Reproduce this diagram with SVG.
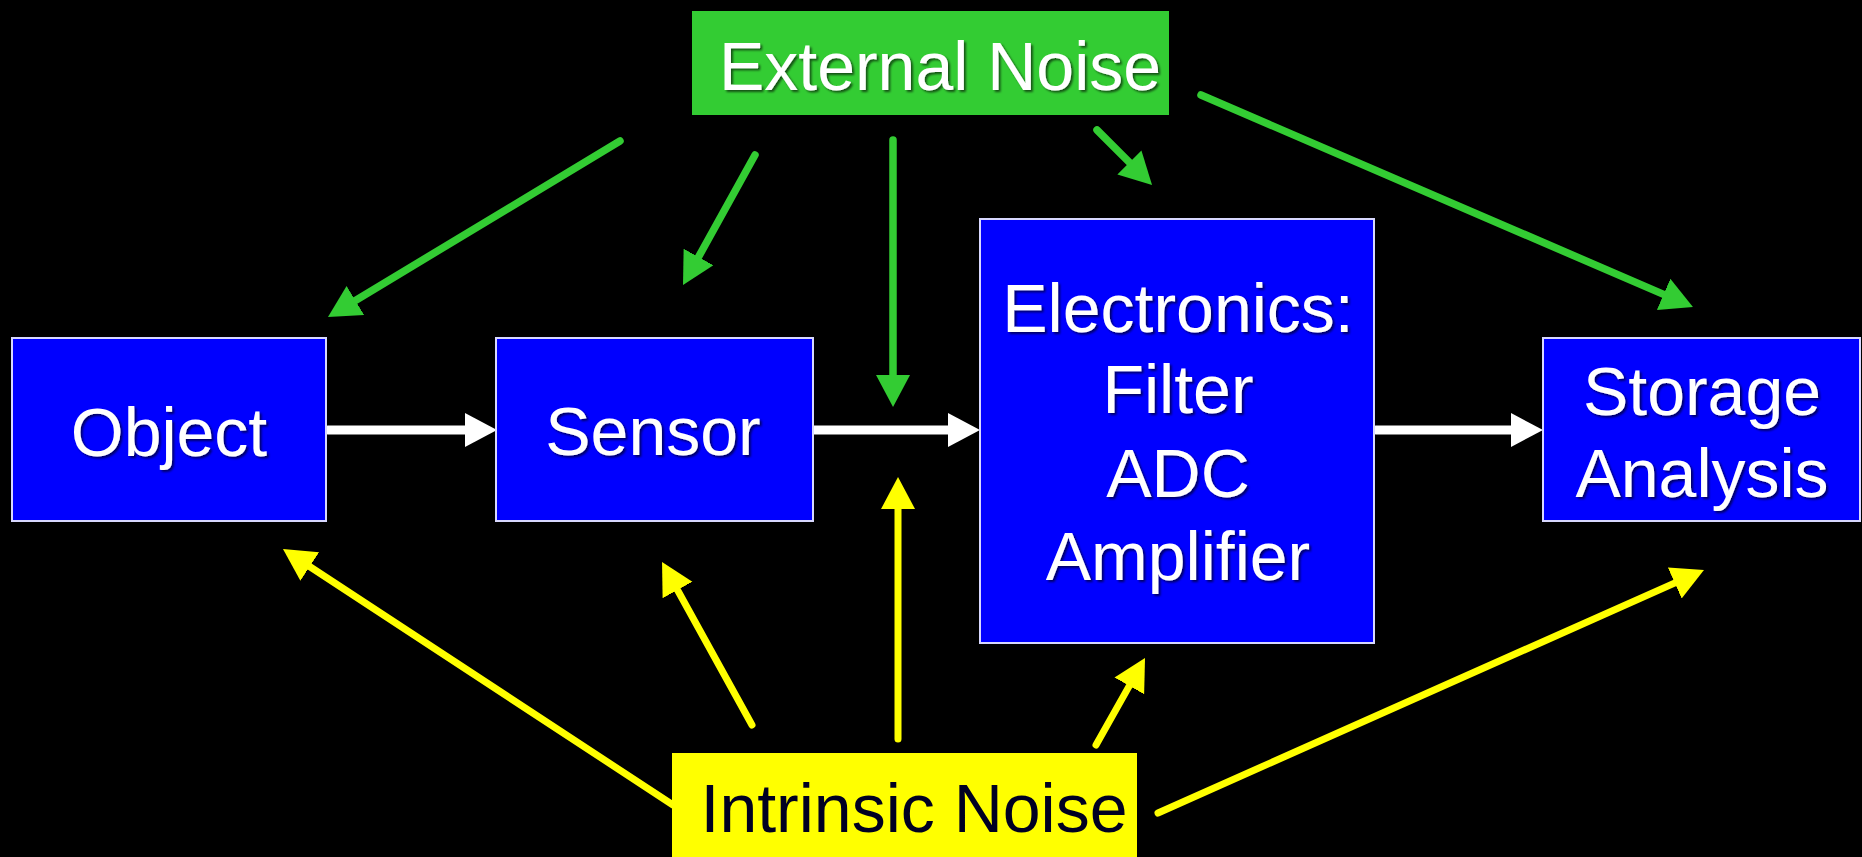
<svg xmlns="http://www.w3.org/2000/svg" width="1862" height="857" viewBox="0 0 1862 857">
<defs>
<style>
.box{fill:#0000ff;stroke:#d8d8ff;stroke-width:2}
.lbl{font-family:"Liberation Sans",Arial,sans-serif;font-size:68px;fill:#ffffff;text-anchor:middle}
.dark{fill:#000022}
.g{stroke:#33cc33;stroke-width:7.5;stroke-linecap:round;fill:none;marker-end:url(#ag)}
.y{stroke:#ffff00;stroke-width:7;stroke-linecap:round;fill:none;marker-end:url(#ay)}
.w{stroke:#ffffff;stroke-width:9;stroke-linecap:round;fill:none;marker-end:url(#aw)}
</style>
<filter id="sh" x="-10%" y="-10%" width="120%" height="130%">
<feDropShadow dx="2" dy="2" stdDeviation="0.8" flood-color="#000000" flood-opacity="0.6"/>
</filter>
<marker id="ag" markerUnits="userSpaceOnUse" markerWidth="34" markerHeight="36" refX="12" refY="17" orient="auto" viewBox="0 0 34 36"><path d="M0,0 L32,17 L0,34 z" fill="#33cc33"/></marker>
<marker id="ay" markerUnits="userSpaceOnUse" markerWidth="34" markerHeight="36" refX="12" refY="17" orient="auto" viewBox="0 0 34 36"><path d="M0,0 L32,17 L0,34 z" fill="#ffff00"/></marker>
<marker id="aw" markerUnits="userSpaceOnUse" markerWidth="34" markerHeight="36" refX="12" refY="17" orient="auto" viewBox="0 0 34 36"><path d="M0,0 L32,17 L0,34 z" fill="#ffffff"/></marker>
</defs>
<rect x="0" y="0" width="1862" height="857" fill="#000000"/>
<g id="connectors">
<line class="w" x1="328" y1="430" x2="477" y2="430"/>
<line class="w" x1="812" y1="430" x2="960" y2="430"/>
<line class="w" x1="1376" y1="430" x2="1523" y2="430"/>
<line class="g" x1="620" y1="141" x2="345.1" y2="306.7"/>
<line class="g" x1="755" y1="155" x2="692.7" y2="267.5"/>
<line class="g" x1="893" y1="140" x2="893" y2="387"/>
<line class="g" x1="1097" y1="130" x2="1137.9" y2="170.9"/>
<line class="g" x1="1201" y1="95" x2="1674.6" y2="299.1"/>
<line class="y" x1="673" y1="805" x2="299.7" y2="560"/>
<line class="y" x1="752" y1="725" x2="671.7" y2="579.5"/>
<line class="y" x1="898" y1="739" x2="898" y2="497"/>
<line class="y" x1="1096" y1="745" x2="1135.2" y2="675.4"/>
<line class="y" x1="1158" y1="813" x2="1685.7" y2="578.1"/>
</g>
<g id="external-noise">
<rect x="692" y="11" width="477" height="104" fill="#33cc33"/>
<text class="lbl" x="940" y="90" filter="url(#sh)">External Noise</text>
</g>
<g id="object">
<rect class="box" x="12" y="338" width="314" height="183"/>
<text class="lbl" x="169" y="456" filter="url(#sh)">Object</text>
</g>
<g id="sensor">
<rect class="box" x="496" y="338" width="317" height="183"/>
<text class="lbl" x="653" y="455" filter="url(#sh)">Sensor</text>
</g>
<g id="electronics">
<rect class="box" x="980" y="219" width="394" height="424"/>
<text class="lbl" filter="url(#sh)"><tspan x="1178" y="332">Electronics:</tspan><tspan x="1178" y="413">Filter</tspan><tspan x="1178" y="497">ADC</tspan><tspan x="1178" y="580">Amplifier</tspan></text>
</g>
<g id="storage">
<rect class="box" x="1543" y="338" width="317" height="183"/>
<text class="lbl" filter="url(#sh)"><tspan x="1702" y="415">Storage</tspan><tspan x="1702" y="497">Analysis</tspan></text>
</g>
<g id="intrinsic-noise">
<rect x="672" y="753" width="465" height="110" fill="#ffff00"/>
<text class="lbl dark" x="914" y="832">Intrinsic Noise</text>
</g>
</svg>
